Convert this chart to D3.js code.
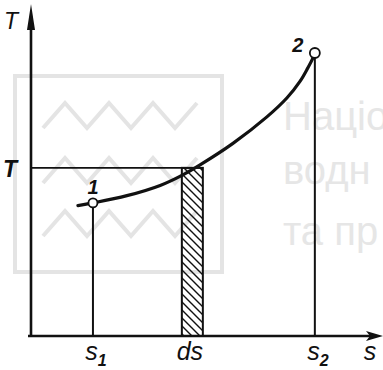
<!DOCTYPE html>
<html>
<head>
<meta charset="utf-8">
<script src="https://cdn.jsdelivr.net/npm/d3@7"></script>
<style>
  html, body { margin: 0; padding: 0; background: #fff; }
  svg { display: block; }
</style>
</head>
<body>
<svg id="chart" width="383" height="370"></svg>
<script>
// T–s diagram: process curve 1→2 with elementary strip ds
const curveS = [13.4, 17.7, 27.4, 36.9, 43.4, 48.3, 57.7, 67.4, 73.1, 76.9, 79.1, 80.3, 81.1];
const curveT = [39.4, 40.2, 42.4, 45.5, 48.7, 51.7, 58.2, 66.2, 71.9, 77.0, 81.0, 83.4, 85.5];

const pointLabels = ["1", "2"];
const pointS = [17.7, 81.1];
const pointT = [40.2, 85.5];

const stripS = [43.1, 49.1];   // ds interval
const levelT = 50.8;           // temperature level of the strip

const sTickLabels = [
  { s: 17.7, main: "s", sub: "1" },
  { s: 45.4, main: "ds", sub: "" },
  { s: 81.1, main: "s", sub: "2" }
];
const axisLabelS = "s";
const axisLabelT = "T";
const levelLabel = "T";

const svg = d3.select("#chart");
const x = d3.scaleLinear().domain([0, 100]).range([31, 381]);
const y = d3.scaleLinear().domain([0, 100]).range([336, 5]);

// faint logo in the background
const wm = svg.append("g").attr("fill", "none").attr("stroke", "#e4e4e4").attr("stroke-width", 4);
wm.append("rect").attr("x", 15).attr("y", 76).attr("width", 207).attr("height", 196);
[103, 158, 211].forEach(top => {
  const pts = [];
  for (let i = 0; i <= 7; i++) pts.push([43 + i * 22, i % 2 ? top : top + 25]);
  wm.append("path").attr("d", d3.line()(pts));
});
const wmText = svg.append("g").attr("fill", "#e6e6e6")
  .attr("font-family", "Liberation Sans, Arial, sans-serif").attr("font-size", 40);
[["Націо", 130], ["водн", 184], ["та пр", 245]].forEach(([t, yy]) =>
  wmText.append("text").attr("x", 283).attr("y", yy).text(t));

// hatch pattern for ds strip
const defs = svg.append("defs");
const pat = defs.append("pattern").attr("id", "hatch").attr("patternUnits", "userSpaceOnUse")
  .attr("width", 8).attr("height", 8);
pat.append("path").attr("d", "M-2,-2 L10,10 M-2,6 L2,10 M6,-2 L10,2")
  .attr("stroke", "#111").attr("stroke-width", 1.4);

// strip
svg.append("rect")
  .attr("x", x(stripS[0])).attr("y", y(levelT))
  .attr("width", x(stripS[1]) - x(stripS[0])).attr("height", y(0) - y(levelT))
  .attr("fill", "url(#hatch)").attr("stroke", "#111").attr("stroke-width", 2);

// level line T
svg.append("line")
  .attr("x1", x(0)).attr("x2", x(stripS[1]))
  .attr("y1", y(levelT)).attr("y2", y(levelT))
  .attr("stroke", "#111").attr("stroke-width", 1.8);

// ordinates at points 1 and 2
pointS.forEach((s, i) => {
  svg.append("line")
    .attr("x1", x(s)).attr("x2", x(s))
    .attr("y1", y(pointT[i])).attr("y2", y(0))
    .attr("stroke", "#111").attr("stroke-width", 2);
});

// process curve
const curveData = curveS.map((s, i) => [s, curveT[i]]);
svg.append("path")
  .datum(curveData)
  .attr("d", d3.line().x(d => x(d[0])).y(d => y(d[1])).curve(d3.curveCatmullRom.alpha(0.5)))
  .attr("fill", "none").attr("stroke", "#111").attr("stroke-width", 3.2)
  .attr("stroke-linecap", "round");

// axes with arrowheads
svg.append("line").attr("x1", x(0)).attr("x2", x(0)).attr("y1", y(0) + 1).attr("y2", 18)
  .attr("stroke", "#111").attr("stroke-width", 2.6);
svg.append("path").attr("d", `M${x(0)},4 L${x(0) - 4},30 L${x(0) + 4},30 Z`).attr("fill", "#111");
svg.append("line").attr("x1", 28).attr("x2", 372).attr("y1", y(0)).attr("y2", y(0))
  .attr("stroke", "#111").attr("stroke-width", 2.6);
svg.append("path").attr("d", `M383,${y(0)} L366,${y(0) - 5} L370,${y(0)} L366,${y(0) + 5} Z`).attr("fill", "#111");

// state points
svg.selectAll("circle.pt").data(pointS).enter().append("circle")
  .attr("class", "pt")
  .attr("cx", d => x(d)).attr("cy", (d, i) => y(pointT[i]))
  .attr("r", (d, i) => i === 0 ? 4.5 : 5)
  .attr("fill", "#fff").attr("stroke", "#111").attr("stroke-width", 1.8);

const font = "Liberation Sans, Arial, sans-serif";
svg.selectAll("text.pl").data(pointLabels).enter().append("text")
  .attr("class", "pl")
  .attr("x", (d, i) => x(pointS[i]) + (i === 0 ? 0 : -17))
  .attr("y", (d, i) => y(pointT[i]) + (i === 0 ? -9 : -1))
  .attr("text-anchor", "middle")
  .attr("font-family", font).attr("font-style", "italic").attr("font-weight", "bold")
  .attr("font-size", 20).attr("fill", "#111").text(d => d);

// axis labels
svg.append("text").attr("x", 4).attr("y", 29).attr("font-family", font)
  .attr("font-style", "italic").attr("font-size", 23).attr("fill", "#111").text(axisLabelT);
svg.append("text").attr("x", 3).attr("y", y(levelT) + 9).attr("font-family", font)
  .attr("font-style", "italic").attr("font-weight", "bold").attr("font-size", 23).attr("fill", "#111").text(levelLabel);
svg.append("text").attr("x", 370).attr("y", 360).attr("text-anchor", "middle").attr("font-family", font)
  .attr("font-style", "italic").attr("font-size", 25).attr("fill", "#111").text(axisLabelS);

sTickLabels.forEach(t => {
  const txt = svg.append("text")
    .attr("x", x(t.s) + (t.sub ? 3 : 0)).attr("y", 360)
    .attr("text-anchor", "middle").attr("font-family", font).attr("font-style", "italic")
    .attr("font-size", 25).attr("fill", "#111");
  txt.append("tspan").text(t.main);
  if (t.sub) txt.append("tspan").attr("dy", 6).attr("font-size", 16).attr("font-weight", "bold").text(t.sub);
});
</script>
</body>
</html>
